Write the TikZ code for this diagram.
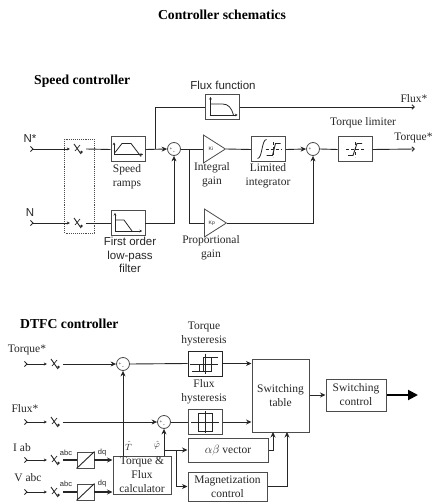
\documentclass[tikz,border=0pt]{standalone}
\usepackage{fontspec}
\setmainfont{Liberation Serif}
\setsansfont{Liberation Sans}
\usetikzlibrary{arrows.meta,positioning,shapes.geometric}

\definecolor{wire}{gray}{0.15}
\definecolor{frame}{gray}{0.3}

\begin{document}
\begin{tikzpicture}[
x=1pt,y=-1pt,
block/.style={rectangle, draw=frame, line width=1pt, inner sep=0pt, align=center, text=black!85, font=\fontsize{11.5}{14}\selectfont},
icon/.style={rectangle, draw=frame, line width=1pt, inner sep=0pt, minimum width=34pt, minimum height=25pt},
dqbox/.style={rectangle, draw=frame, line width=0.9pt, inner sep=0pt, minimum width=17pt, minimum height=16pt},
sum/.style={circle, draw=frame, line width=0.8pt, inner sep=0pt, minimum size=13pt},
gain/.style={isosceles triangle, isosceles triangle apex angle=64, isosceles triangle stretches, draw=frame, line width=0.8pt, inner sep=0pt, minimum width=28pt, minimum height=22pt, anchor=lower side, font=\sffamily\fontsize{5}{5}\selectfont, text=wire},
switchnode/.style={inner sep=0pt, minimum width=16pt, minimum height=12pt},
caption/.style={align=center, inner sep=0pt, text=black!85, font=\fontsize{11.5}{14}\selectfont},
sanscap/.style={align=center, inner sep=0pt, text=black!85, font=\sffamily\fontsize{11.5}{13.5}\selectfont},
smallcap/.style={inner sep=0pt, text=black!85, font=\sffamily\fontsize{7.5}{9}\selectfont},
heading/.style={inner sep=0pt, font=\bfseries\fontsize{13.7}{15}\selectfont},
tiny sign/.style={inner sep=0pt, font=\fontsize{5}{5}\selectfont},
wireline/.style={draw=wire, line width=0.9pt},
arrow/.style={wireline, -{Stealth[length=5.5pt,width=5pt]}},
openarrow/.style={wireline, -{Straight Barb[length=2.5pt,width=4.5pt]}},
inarrow/.style={wireline, {Straight Barb[reversed,length=2.5pt,width=5pt]}-{Stealth[length=3pt,width=3pt]}},
sketch/.style={draw=black!85, line width=0.6pt},
axis/.style={sketch, -{Stealth[length=2.5pt,width=2.5pt]}}
]

\useasboundingbox (0,0) rectangle (433,502);

\node[heading] (title) at (222,15) {Controller schematics};

% speed controller
\node[heading, anchor=west] (speedhead) at (34,81) {Speed controller};

\node[sanscap] (nstarlabel) at (30,139) {N*};
\node[sanscap] (nlabel) at (30,213) {N};
\coordinate (nstarin) at (30,149);
\coordinate (nin) at (30,223);
\node[switchnode] (swa) at (78,149) {};
\node[switchnode] (swb) at (78,223) {};
\draw[draw=frame, densely dotted, line width=0.9pt] (64.5,139) rectangle (94,233);

\node[icon] (ramps) at (128,149.5) {};
\node[caption] (rampslabel) at (127,177) {Speed\\ramps};
\node[icon, line width=0.8pt] (lowpass) at (128,223) {};
\node[sanscap] (lowpasslabel) at (130,255) {First order\\low-pass\\filter};
\node[sum] (suma) at (174,149) {};
\node[tiny sign] (sumaplus) at (171,149) {+};
\node[tiny sign] (sumaminus) at (174,153) {-};

\node[icon] (fluxfn) at (222.5,107) {};
\node[sanscap] (fluxfnlabel) at (223,85) {Flux function};
\coordinate (fluxout) at (415,107);
\node[caption] (fluxoutlabel) at (414,99) {Flux*};

\node[gain] (ki) at (203,149) {Ki};
\node[caption] (kilabel) at (212,175) {Integral\\gain};
\node[gain] (kp) at (204,223) {Kp};
\node[caption] (kplabel) at (211,248) {Proportional\\gain};
\node[icon] (limint) at (268.5,149.5) {};
\node[caption] (limintlabel) at (268,176) {Limited\\integrator};
\node[sum] (sumb) at (313,149) {};
\node[tiny sign] (sumbplus) at (310,149) {+};
\node[icon] (limiter) at (355,149.5) {};
\node[caption] (limiterlabel) at (363,123) {Torque limiter};
\coordinate (torqueout) at (415,149);
\node[caption] (torqueoutlabel) at (413.5,138) {Torque*};

\coordinate (fluxtap) at (155,149);
\coordinate (gaintap) at (189,149);

\draw[inarrow] (nstarin) -- (swa.west);
\draw[inarrow] (nin) -- (swb.west);
\draw[wireline] (swa.east) -- (ramps.west);
\draw[wireline] (swb.east) -- (lowpass.west);
\draw[arrow] (ramps.east) -- (suma.west);
\draw[arrow] (lowpass.east) -| (suma.south);
\draw[wireline] (fluxtap) |- (fluxfn.west);
\draw[openarrow] (fluxfn.east) -- (fluxout);
\draw[wireline] (suma.east) -- (ki.lower side);
\draw[wireline] (gaintap) |- (kp.lower side);
\draw[wireline] (ki.apex) -- (limint.west);
\draw[arrow] (limint.east) -- (sumb.west);
\draw[arrow] (kp.apex) -| (sumb.south);
\draw[wireline] (sumb.east) -- (limiter.west);
\draw[openarrow] (limiter.east) -- (torqueout);

% dtfc controller
\node[heading, anchor=west] (dtfchead) at (20,324) {DTFC controller};

\node[caption] (tqlabel) at (27,350) {Torque*};
\node[caption] (fxlabel) at (25,409) {Flux*};
\node[caption] (iablabel) at (22,448) {I ab};
\node[caption] (vabclabel) at (28,478) {V abc};
\coordinate (tqin) at (24,364);
\coordinate (fxin) at (24,422);
\coordinate (iabin) at (24,460);
\coordinate (vabcin) at (24,492);
\node[switchnode] (swc) at (55,364) {};
\node[switchnode] (swd) at (55,422) {};
\node[switchnode] (swe) at (55,460) {};
\node[switchnode] (swf) at (55,492) {};

\node[sum] (sumt) at (123,364) {};
\node[tiny sign] (sumtplus) at (120,364) {+};
\node[tiny sign] (sumtminus) at (123,368) {-};
\node[sum] (sumf) at (164,422) {};
\node[tiny sign] (sumfplus) at (161,422) {+};
\node[tiny sign] (sumfminus) at (164,426) {-};

\node[icon, draw=black!85] (torquehyst) at (205,363.5) {};
\node[caption] (torquehystlabel) at (204,334) {Torque\\hysteresis};
\node[icon] (fluxhyst) at (205,422) {};
\node[caption] (fluxhystlabel) at (204,392) {Flux\\hysteresis};

\node[block, minimum width=57pt, minimum height=73pt] (table) at (280.5,395.5) {Switching\\table};
\node[block, minimum width=60pt, minimum height=32pt] (control) at (356,395) {Switching\\control};
\coordinate (motor) at (418,395);
\node[block, minimum width=80pt, minimum height=24pt] (vector) at (228,450) {$\alpha\beta$ vector};
\node[block, minimum width=79pt, minimum height=29pt] (magnet) at (227.5,486.5) {Magnetization\\control};
\node[block, minimum width=58pt, minimum height=38pt] (calc) at (142,475) {Torque \&\\Flux\\calculator};
\coordinate (vectorentry) at (273,432);
\coordinate (magnetentry) at (287,432);

\node[dqbox] (dqa) at (85.5,460) {};
\node[dqbox] (dqb) at (85.5,492) {};
\draw[wireline] (dqa.south west) -- (dqa.north east);
\draw[wireline] (dqb.south west) -- (dqb.north east);
\node[smallcap] (abca) at (66,453) {abc};
\node[smallcap] (abcb) at (66,484) {abc};
\node[smallcap] (dqla) at (102,453) {dq};
\node[smallcap] (dqlb) at (102,484) {dq};
\node[inner sep=0pt, font=\fontsize{9}{9}\selectfont, text=wire] (that) at (128.5,446) {$\hat{T}$};
\node[inner sep=0pt, font=\fontsize{9}{9}\selectfont, text=wire] (phihat) at (157,445.5) {$\hat{\varphi}$};

\coordinate (vectortap) at (164,450);
\coordinate (magnettap) at (176,450);

\draw[inarrow] (tqin) -- (swc.west);
\draw[inarrow] (fxin) -- (swd.west);
\draw[inarrow] (iabin) -- (swe.west);
\draw[inarrow] (vabcin) -- (swf.west);
\draw[arrow] (swc.east) -- (sumt.west);
\draw[arrow] (swd.east) -- (sumf.west);
\draw[wireline, line width=1.2pt] (swe.east) -- (dqa.west);
\draw[wireline, line width=1.2pt] (swf.east) -- (dqb.west);
\draw[arrow, line width=1.2pt] (dqa.east) -- (calc.west |- dqa.east);
\draw[arrow, line width=1.2pt] (dqb.east) -- (calc.west |- dqb.east);
\draw[arrow] (calc.north -| sumt) -- (sumt.south);
\draw[arrow] (calc.north -| sumf) -- (sumf.south);
\draw[wireline] (sumt.east) -- (torquehyst.west);
\draw[wireline] (sumf.east) -- (fluxhyst.west);
\draw[arrow] (torquehyst.east) -- (table.west |- torquehyst.east);
\draw[arrow] (fluxhyst.east) -- (table.west |- fluxhyst.east);
\draw[arrow] (vectortap) -- (vector.west);
\draw[arrow] (magnettap) |- (magnet.west);
\draw[arrow] (vector.east) -| (vectorentry);
\draw[arrow] (magnet.east) -| (magnetentry);
\draw[arrow] (table.east |- control.west) -- (control.west);
\draw[draw=black, line width=2pt, -{Triangle[length=10pt,width=10pt]}] (control.east) -- (motor);

% switches
\foreach \sw in {swa,swb,swc,swd,swe,swf} {
  \begin{scope}[shift={(\sw.center)}]
    \draw[sketch, line width=0.9pt] (-4,-5) -- (3,5);
    \draw[sketch, line width=0.7pt] (-3,2) -- (2,-4);
    \fill[black!85] (3.5,3) circle (1.3pt);
  \end{scope}
}

% icons
\begin{scope}[shift={(ramps.center)}]
  \draw[axis] (-14,6) -- (-14,-7);
  \draw[axis] (-14,5) -- (15,5);
  \draw[sketch, line width=0.8pt] (-13,3) -- (-6,-6) -- (3,-6) -- (13,7);
\end{scope}
\begin{scope}[shift={(lowpass.center)}]
  \draw[axis] (-13,9) -- (-13,-10);
  \draw[axis] (-13,8) -- (14,8);
  \draw[sketch, line width=0.8pt] (-13,-3) -- (-4,-3) -- (4,8);
  \draw[sketch] (-4,8) -- (2,8);
\end{scope}
\begin{scope}[shift={(fluxfn.center)}]
  \draw[axis] (-12,9) -- (-12,-10);
  \draw[axis] (-13,8) -- (15,8);
  \draw[sketch, line width=0.8pt] (-12,-3) -- (0,-3) .. controls (6,-3) and (9,1) .. (11,8);
\end{scope}
\begin{scope}[shift={(limint.center)}]
  \draw[sketch, line width=0.8pt] (-11,9) .. controls (-6,9) and (-7,-10) .. (-2,-10);
  \draw[sketch, densely dashed] (-3,0) -- (13,0);
  \draw[sketch, densely dashed] (5,-7) -- (5,8);
  \draw[sketch, line width=0.9pt] (-2,6) -- (4,6) -- (7,-6) -- (12,-6);
\end{scope}
\begin{scope}[shift={(limiter.center)}]
  \draw[sketch, densely dashed] (-9,0) -- (9,0);
  \draw[sketch, densely dashed] (0,-7) -- (0,8);
  \draw[sketch, line width=0.9pt] (-7,6) -- (-2,6) -- (2,-6) -- (7,-6);
\end{scope}
\begin{scope}[shift={(torquehyst.center)}]
  \draw[sketch, thin] (-15,1) -- (13,1);
  \draw[sketch, thin] (0,-10) -- (0,10);
  \draw[sketch, line width=1pt] (-13,7.5) -- (6,7.5) -- (6,-6) -- (13,-6);
  \draw[sketch, line width=0.8pt] (13,-6) -- (-2,-6) -- (-2,7.5);
  \draw[sketch, thin] (-6,1) -- (-6,7.5);
\end{scope}
\begin{scope}[shift={(fluxhyst.center)}]
  \draw[sketch, thin] (-14,0) -- (14,0);
  \draw[sketch, thin] (0,-11) -- (0,11);
  \draw[sketch, line width=0.8pt] (-7,-9) rectangle (7,9);
  \draw[sketch, line width=1pt] (-7,9) -- (7,9);
\end{scope}

\end{tikzpicture}
\end{document}
